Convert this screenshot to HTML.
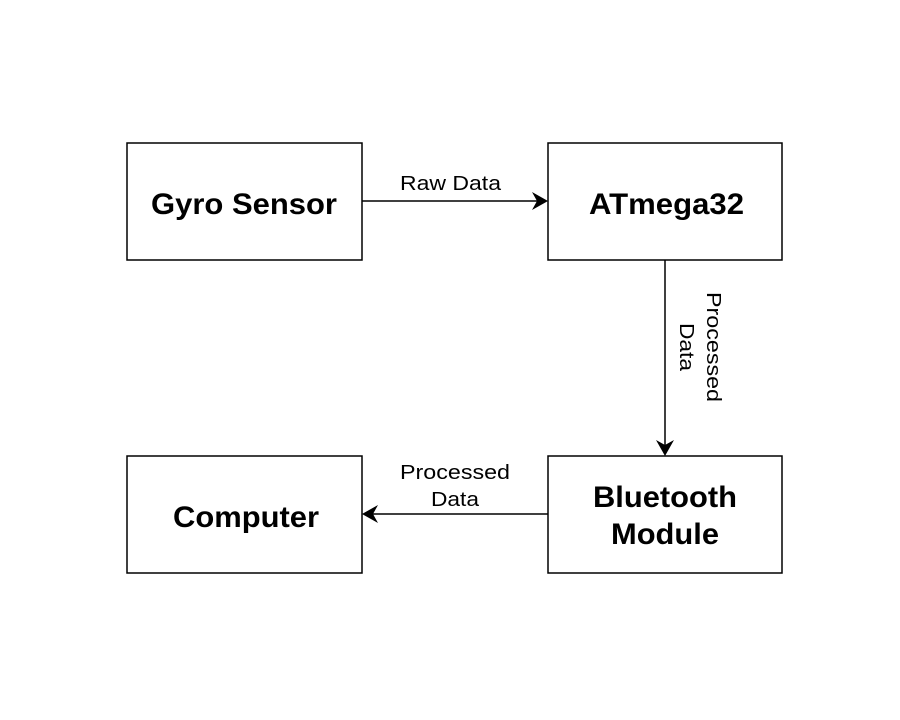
<!DOCTYPE html>
<html><head><style>
body{margin:0;width:900px;height:720px;background:#fff;overflow:hidden}
svg{display:block}
.b{font-family:"Liberation Sans",sans-serif;font-weight:bold;font-size:30px;fill:#000}
.t{font-family:"Liberation Sans",sans-serif;font-size:20.5px;fill:#000}
</style></head><body>
<svg width="900" height="720" viewBox="0 0 900 720">
<g fill="#fff" stroke="#000" stroke-width="1.5">
<rect x="127" y="143" width="235" height="117"/>
<rect x="548" y="143" width="234" height="117"/>
<rect x="127" y="456" width="235" height="117"/>
<rect x="548" y="456" width="234" height="117"/>
</g>
<g stroke="#000" stroke-width="1.5">
<line x1="362" y1="201" x2="538" y2="201"/>
<line x1="665" y1="260" x2="665" y2="445"/>
<line x1="548" y1="514" x2="372" y2="514"/>
</g>
<g fill="#000">
<polygon points="548,201 532,192 537,201 532,210"/>
<polygon points="665,456 656,440 665,445 674,440"/>
<polygon points="362,514 378,505 373,514 378,523"/>
</g>
<text class="b" x="151" y="214" textLength="186" lengthAdjust="spacingAndGlyphs">Gyro Sensor</text>
<text class="b" x="589" y="214" textLength="155" lengthAdjust="spacingAndGlyphs">ATmega32</text>
<text class="b" x="173" y="527" textLength="146" lengthAdjust="spacingAndGlyphs">Computer</text>
<text class="b" x="593" y="507" textLength="144" lengthAdjust="spacingAndGlyphs">Bluetooth</text>
<text class="b" x="611" y="544" textLength="108" lengthAdjust="spacingAndGlyphs">Module</text>
<text class="t" x="400" y="190" textLength="101" lengthAdjust="spacingAndGlyphs">Raw Data</text>
<text class="t" x="400" y="479" textLength="110" lengthAdjust="spacingAndGlyphs">Processed</text>
<text class="t" x="431" y="506" textLength="48" lengthAdjust="spacingAndGlyphs">Data</text>
<g transform="translate(699,347) rotate(90)">
<text class="t" x="-55" y="-8" textLength="110" lengthAdjust="spacingAndGlyphs">Processed</text>
<text class="t" x="-24" y="19" textLength="48" lengthAdjust="spacingAndGlyphs">Data</text>
</g>
</svg>
</body></html>
